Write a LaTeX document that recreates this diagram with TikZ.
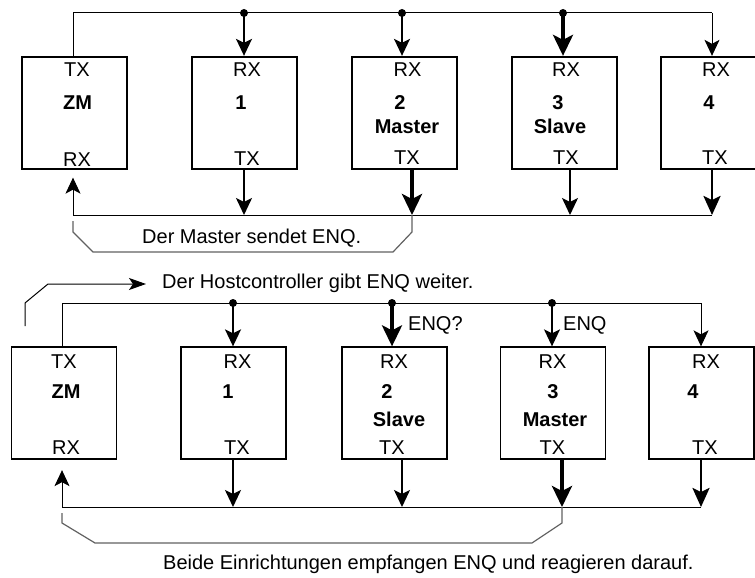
\documentclass[tikz,border=0pt]{standalone}
\usepackage{fontspec}
\setmainfont{Liberation Sans}
\usetikzlibrary{arrows.meta,calc}

\tikzset{
  unit/.style={draw, line width=1.8bp, minimum width=105bp, minimum height=112bp, inner sep=0pt},
  lbl/.style={inner sep=0pt, anchor=base, font=\fontsize{20bp}{24bp}\selectfont},
  num/.style={lbl, font=\bfseries\fontsize{20bp}{24bp}\selectfont},
  bus/.style={line width=1bp},
  brace/.style={line width=1.2bp, draw=black!62},
  dot/.style={circle, fill, inner sep=0pt, minimum size=8bp},
  sigthin/.style={line width=1bp, -{Stealth[length=16bp,width=15bp,inset=4bp]}},
  sigmid/.style={line width=1.5bp, -{Stealth[length=17bp,width=16bp,inset=4bp]}},
  sig/.style={line width=2bp, -{Stealth[length=17bp,width=16bp,inset=4bp]}},
  sigbold/.style={line width=2.6bp, -{Stealth[length=19bp,width=17bp,inset=4bp]}},
  sigthick/.style={line width=3.6bp, -{Stealth[length=21bp,width=20bp,inset=5bp]}},
  hostarrow/.style={line width=1bp, -{Stealth[length=17bp,width=12bp,inset=4bp]}},
}

\begin{document}
\begin{tikzpicture}[x=1bp, y=-1bp]
\useasboundingbox (0,0) rectangle (755,578);
\clip (0,0) rectangle (755,578);

% ---------------- first state: station 2 is master ----------------
\node[unit] (zmA) at (74.5,112.75) {};
\node[unit] (aA)  at (244.5,112.75) {};
\node[unit] (bA)  at (404.5,112.75) {};
\node[unit] (cA)  at (564.5,112.75) {};
\node[unit] (dA)  at (713.5,112.75) {};

\node[lbl] (zmAt) at (77,77)    {TX};
\node[num] (zmAn) at (77.5,110) {ZM};
\node[lbl] (zmAr) at (77,166.5) {RX};
\node[lbl] (aAr) at (247,77)    {RX};
\node[num] (aAn) at (241,110)   {1};
\node[lbl] (aAt) at (247,166)   {TX};
\node[lbl] (bAr) at (407.5,77)  {RX};
\node[num] (bAn) at (400,110)   {2};
\node[num] (bAm) at (407,134)   {Master};
\node[lbl] (bAt) at (407,165)   {TX};
\node[lbl] (cAr) at (566,77)    {RX};
\node[num] (cAn) at (558,110)   {3};
\node[num] (cAm) at (560,134)   {Slave};
\node[lbl] (cAt) at (566,165)   {TX};
\node[lbl] (dAr) at (716,77)    {RX};
\node[num] (dAn) at (709,110)   {4};
\node[lbl] (dAt) at (715,165)   {TX};

% ring bus
\coordinate (tA0) at (73,13);
\coordinate (tA4) at (712,13);
\coordinate (jA1) at (244,13);
\coordinate (jA2) at (402,13);
\coordinate (jA3) at (563,13);
\coordinate (rA0) at (73,215);
\coordinate (rA1) at (244,215);
\coordinate (rA2) at (412,215);
\coordinate (rA3) at (570,215);
\coordinate (rA4) at (712,215);

\draw[bus] (tA0 |- zmA.north) -- (tA0) -- (tA4);
\draw[sigthin] (tA4) -- (tA4 |- dA.north);
\draw[sig] (jA1) -- (jA1 |- aA.north);
\draw[sig] (jA2) -- (jA2 |- bA.north);
\draw[sigthick] (jA3) -- (jA3 |- cA.north);
\node[dot] (dA1) at (jA1) {};
\node[dot] (dA2) at (jA2) {};
\node[dot] (dA3) at (jA3) {};

\draw[sig] (rA1 |- aA.south) -- (rA1);
\draw[sigthick] (rA2 |- bA.south) -- (rA2);
\draw[sigmid] (rA3 |- cA.south) -- (rA3);
\draw[sigbold] (rA4 |- dA.south) -- (rA4);
\draw[bus] (rA4) -- (rA0);
\draw[sigthin, shorten >=8bp] (rA0) -- (rA0 |- zmA.south);

% bracket from master to head station
\draw[brace] ($(rA0)+(0,6)$) -- ++(0,11) -- ++(20,20) -- (393,252) -- ++(19,-20) -- (rA2);
\node[lbl, anchor=base west] (capA) at (142,243.5) {Der Master sendet ENQ.};

% ---------------- second state: station 3 is master ----------------
\node[unit] (zmB) at (64,403.25) {};
\node[unit] (aB)  at (233.5,403.25) {};
\node[unit] (bB)  at (394.5,403.25) {};
\node[unit] (cB)  at (553,403.25) {};
\node[unit] (dB)  at (701.5,403.25) {};

\node[lbl] (zmBt) at (64,368)   {TX};
\node[num] (zmBn) at (66,398.5) {ZM};
\node[lbl] (zmBr) at (66,454)   {RX};
\node[lbl] (aBr) at (237.5,368) {RX};
\node[num] (aBn) at (228,398.5) {1};
\node[lbl] (aBt) at (237,454)   {TX};
\node[lbl] (bBr) at (394,368)   {RX};
\node[num] (bBn) at (387,398.5) {2};
\node[num] (bBm) at (399,426.5) {Slave};
\node[lbl] (bBt) at (392,454)   {TX};
\node[lbl] (cBr) at (552.5,368) {RX};
\node[num] (cBn) at (553,398.5) {3};
\node[num] (cBm) at (555,426.5) {Master};
\node[lbl] (cBt) at (552.5,454) {TX};
\node[lbl] (dBr) at (706,368)   {RX};
\node[num] (dBn) at (693,398.5) {4};
\node[lbl] (dBt) at (705,454)   {TX};

\coordinate (tB0) at (62,303);
\coordinate (tB4) at (701,303);
\coordinate (jB1) at (233,303);
\coordinate (jB2) at (392,303);
\coordinate (jB3) at (552,303);
\coordinate (rB0) at (62,507);
\coordinate (rB1) at (233,507);
\coordinate (rB2) at (402,507);
\coordinate (rB3) at (562,507);
\coordinate (rB4) at (701,507);

\draw[bus] (tB0 |- zmB.north) -- (tB0) -- (tB4);
\draw[sigthin] (tB4) -- (tB4 |- dB.north);
\draw[sig] (jB1) -- (jB1 |- aB.north);
\draw[sigthick] (jB2) -- (jB2 |- bB.north);
\draw[sigmid] (jB3) -- (jB3 |- cB.north);
\node[dot] (dB1) at (jB1) {};
\node[dot] (dB2) at (jB2) {};
\node[dot] (dB3) at (jB3) {};

\node[lbl, anchor=base west] (enqq) at (408,330.5) {ENQ?};
\node[lbl, anchor=base west] (enq)  at (563,330.5) {ENQ};

\draw[sig] (rB1 |- aB.south) -- (rB1);
\draw[sig] (rB2 |- bB.south) -- (rB2);
\draw[sigthick] (rB3 |- cB.south) -- (rB3);
\draw[sigbold] (rB4 |- dB.south) -- (rB4);
\draw[bus] (rB4) -- (rB0);
\draw[sigthin, shorten >=10bp] (rB0) -- (rB0 |- zmB.south);

% head station forwards the request
\node[lbl, anchor=base west] (capH) at (162,288.5) {Der Hostcontroller gibt ENQ weiter.};
\coordinate (hs) at (25,326);
\draw[hostarrow] (hs) -- ++(0,-23) -- ++(23,-19) -- ($(capH.base west)+(-16,-4.5)$);

% bracket joining both receivers
\draw[brace] ($(rB0)+(0,6)$) -- ++(0,10) -- ++(33,20) -- (532,543) -- ++(30,-20) -- (rB3);
\node[lbl, anchor=base west] (capB) at (163,569.5) {Beide Einrichtungen empfangen ENQ und reagieren darauf.};
\end{tikzpicture}
\end{document}
